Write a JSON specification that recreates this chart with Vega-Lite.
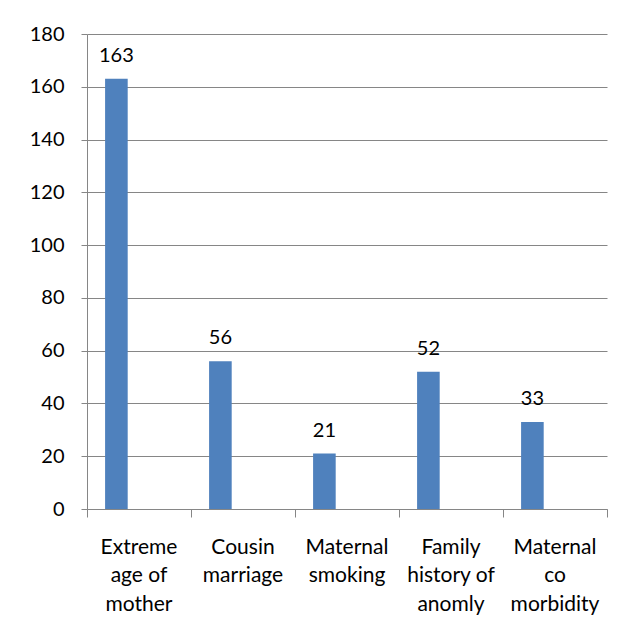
{
  "$schema": "https://vega.github.io/schema/vega-lite/v6.json",
  "autosize": "none",
  "width": 520,
  "height": 475,
  "padding": {"left": 87, "top": 34, "right": 29, "bottom": 119},
  "background": "white",
  "data": {
    "values": [
      {"cat": "Extreme age of mother", "s": "s1", "value": 163},
      {"cat": "Cousin marriage", "s": "s1", "value": 56},
      {"cat": "Maternal smoking", "s": "s1", "value": 21},
      {"cat": "Family history of anomly", "s": "s1", "value": 52},
      {"cat": "Maternal co morbidity", "s": "s1", "value": 33}
    ]
  },
  "encoding": {
    "x": {
      "field": "cat",
      "type": "nominal",
      "sort": null,
      "scale": {"paddingInner": 0, "paddingOuter": 0},
      "axis": {
        "title": null,
        "bandPosition": 1,
        "tickExtra": true,
        "labelOffset": 0,
        "labelAngle": 0,
        "labelAlign": "center",
        "labelBaseline": "top",
        "labelPadding": 19,
        "labelLineHeight": 28.5,
        "labelFont": "Lato",
        "labelFontSize": 21,
        "labelColor": "black",
        "tickSize": 8,
        "tickColor": "#868686",
        "domainColor": "#868686",
        "grid": false,
        "labelExpr": "datum.value == 'Extreme age of mother' ? ['Extreme','age of','mother'] : datum.value == 'Cousin marriage' ? ['Cousin','marriage'] : datum.value == 'Maternal smoking' ? ['Maternal','smoking'] : datum.value == 'Family history of anomly' ? ['Family','history of','anomly'] : datum.value == 'Maternal co morbidity' ? ['Maternal','co','morbidity'] : ''"
      }
    },
    "xOffset": {
      "field": "s",
      "type": "nominal",
      "scale": {"domain": ["s1", "s2", "s3"], "paddingInner": 0, "paddingOuter": 0.8}
    },
    "y": {
      "field": "value",
      "type": "quantitative",
      "scale": {"domain": [0, 180], "nice": false},
      "axis": {
        "title": null,
        "values": [0, 20, 40, 60, 80, 100, 120, 140, 160, 180],
        "labelFont": "Lato",
        "labelFontSize": 20,
        "labelColor": "black",
        "labelPadding": 17,
        "tickSize": 6,
        "tickColor": "#868686",
        "domainColor": "#868686",
        "gridColor": "#868686",
        "gridWidth": 1
      }
    }
  },
  "layer": [
    {"mark": {"type": "bar", "color": "#4F81BD"}},
    {
      "mark": {"type": "text", "baseline": "alphabetic", "dy": -17, "font": "Lato", "fontSize": 20, "color": "black"},
      "encoding": {"text": {"field": "value", "type": "quantitative"}}
    }
  ],
  "config": {"view": {"stroke": null}}
}
